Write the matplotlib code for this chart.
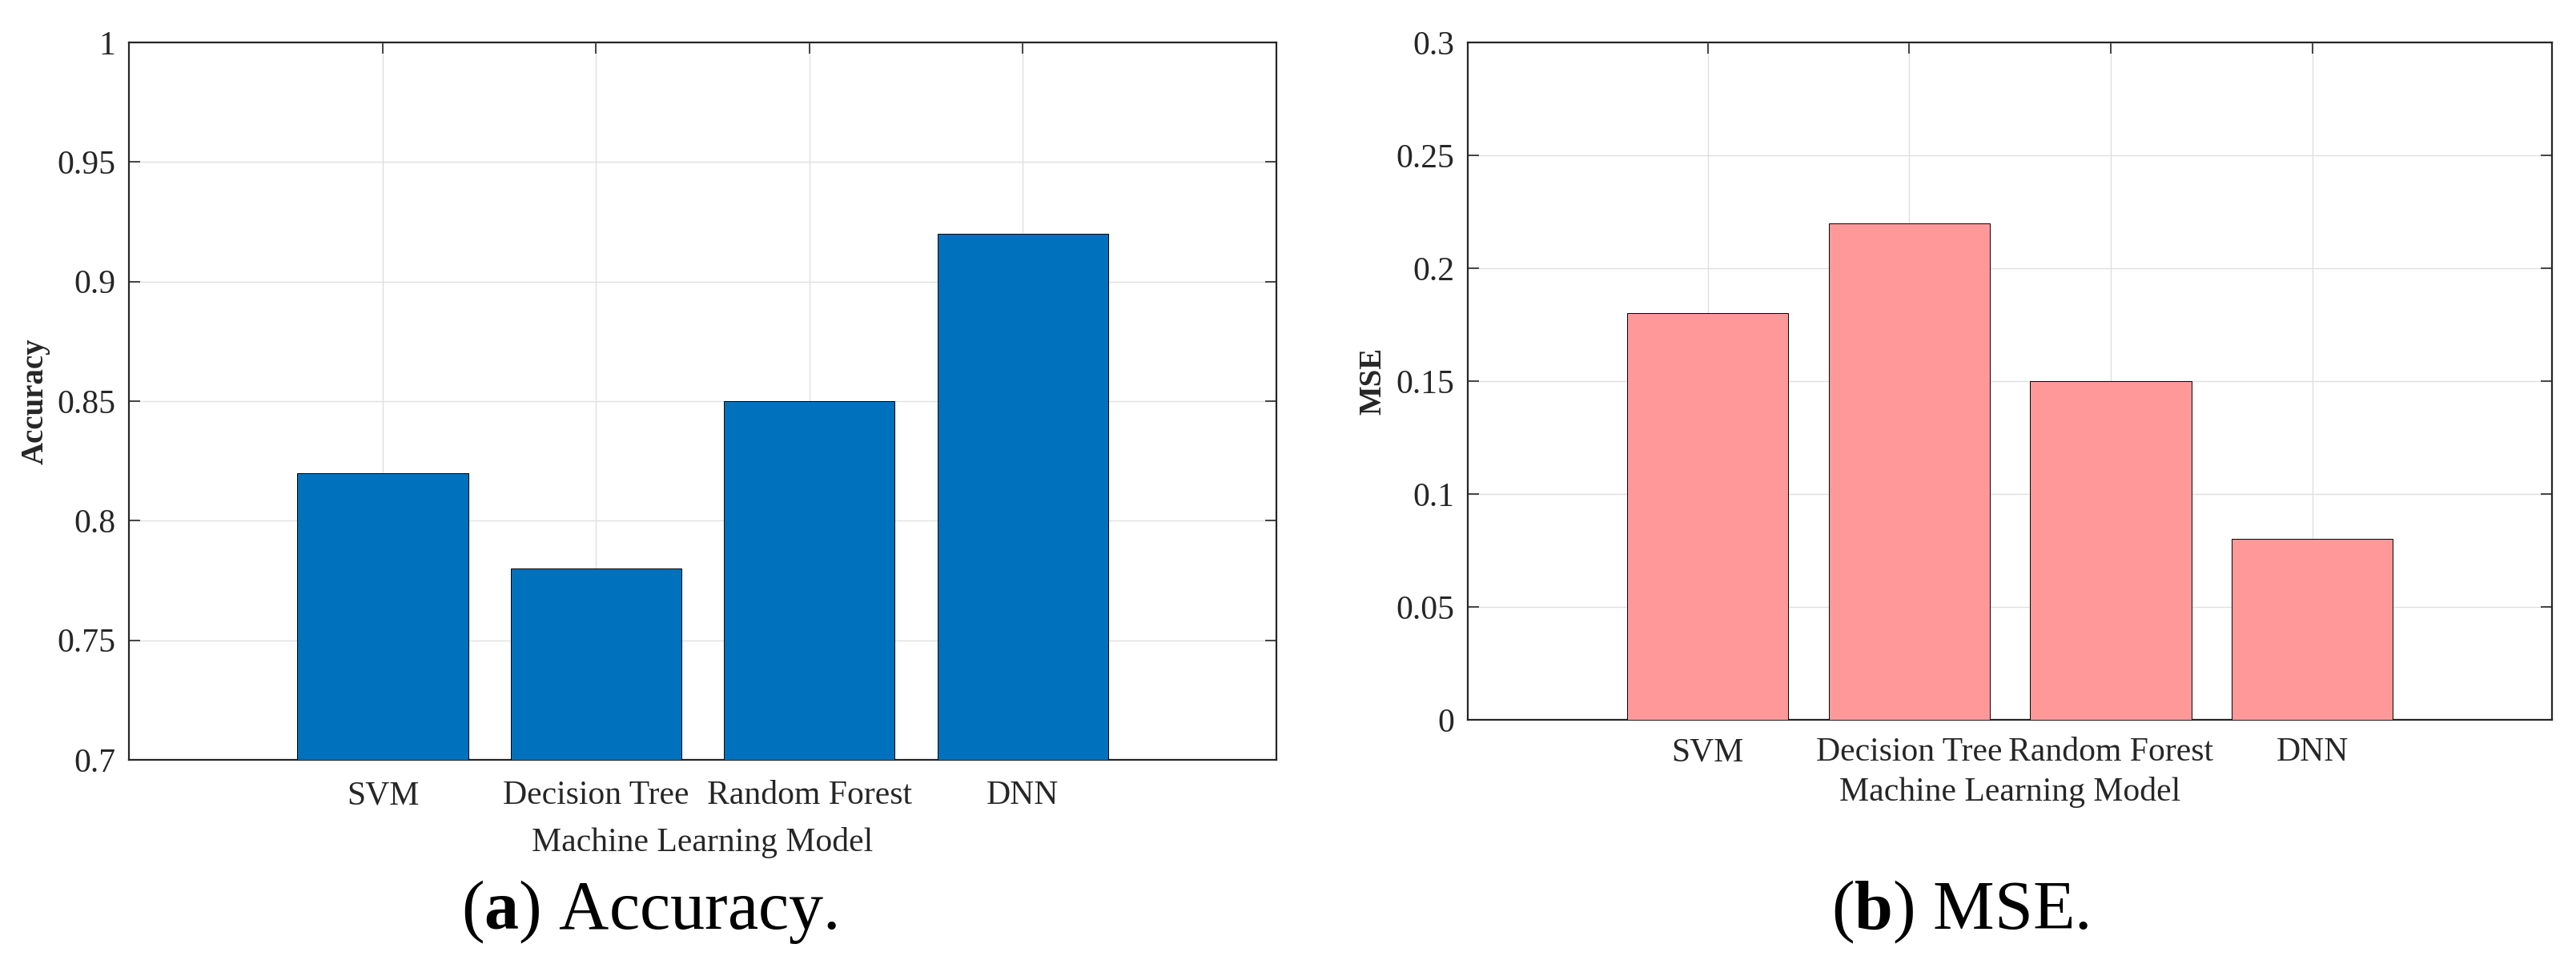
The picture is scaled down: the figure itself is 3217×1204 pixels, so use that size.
#!/usr/bin/env python3
"""
Accuracy and MSE of four machine learning models, two bar panels.
"""

import numpy as np
import matplotlib
matplotlib.use("Agg")
import matplotlib.pyplot as plt
from matplotlib.ticker import FuncFormatter

models = ["SVM", "Decision Tree", "Random Forest", "DNN"]
accuracy = [0.82, 0.78, 0.85, 0.92]
mse = [0.18, 0.22, 0.15, 0.08]
acc_ticks = [0.7, 0.75, 0.8, 0.85, 0.9, 0.95, 1.0]
mse_ticks = [0.0, 0.05, 0.1, 0.15, 0.2, 0.25, 0.3]

plt.rcParams['font.family'] = ['Liberation Serif', 'DejaVu Serif']
plt.rcParams['mathtext.fontset'] = 'custom'
plt.rcParams['mathtext.rm'] = 'Liberation Serif'
plt.rcParams['mathtext.bf'] = 'Liberation Serif:bold'

TEXT = '#262626'


def style_axes(ax, ticks, ylim, ylabel, xpad, xlabelpad, ylabelpad):
    """MATLAB-like boxed axes with light grid and inward ticks."""
    ax.set_xlim(-0.19, 5.19)
    ax.set_ylim(*ylim)
    ax.set_xticks(np.arange(1, len(models) + 1))
    ax.set_xticklabels(models)
    ax.set_yticks(ticks)
    ax.yaxis.set_major_formatter(FuncFormatter(lambda v, p: '%g' % round(v, 3)))
    ax.grid(True, color='#e0e0e0', linewidth=1.0)
    ax.set_axisbelow(True)
    for s in ax.spines.values():
        s.set_linewidth(1.6)
        s.set_color(TEXT)
    ax.tick_params(axis='both', direction='in', length=10, width=1.2,
                   colors=TEXT, labelsize=30, top=True, right=True)
    ax.tick_params(axis='x', pad=xpad)
    ax.tick_params(axis='y', pad=12)
    ax.set_xlabel("Machine Learning Model", fontsize=30, color=TEXT,
                  labelpad=xlabelpad)
    ax.set_ylabel(ylabel, fontsize=28, fontweight='bold', color=TEXT,
                  labelpad=ylabelpad)


fig = plt.figure(figsize=(32.17, 12.04), dpi=100)

# (a) accuracy
ax1 = fig.add_axes([0.05005, 0.21179, 0.44545, 0.74419])
x = np.arange(1, len(models) + 1)
ax1.bar(x, accuracy, width=0.8, color='#0072BD', edgecolor='black',
        linewidth=0.7, zorder=3)
style_axes(ax1, acc_ticks, (0.7, 1.0), "Accuracy", 18.5, 14, 6)

# (b) mse
ax2 = fig.add_axes([0.56979, 0.25332, 0.42089, 0.70266])
ax2.bar(x, mse, width=0.8, color='#FF9999', edgecolor='black',
        linewidth=0.7, zorder=3)
style_axes(ax2, mse_ticks, (0.0, 0.3), "MSE", 15.5, 8, 7)

# captions
fig.text(0.2521, 0.0365, r"($\mathbf{a}$) Accuracy.", fontsize=62,
         ha='center', va='baseline', color='black')
fig.text(0.7610, 0.0365, r"($\mathbf{b}$) MSE.", fontsize=62,
         ha='center', va='baseline', color='black')

fig.savefig("out.png", dpi=100)
